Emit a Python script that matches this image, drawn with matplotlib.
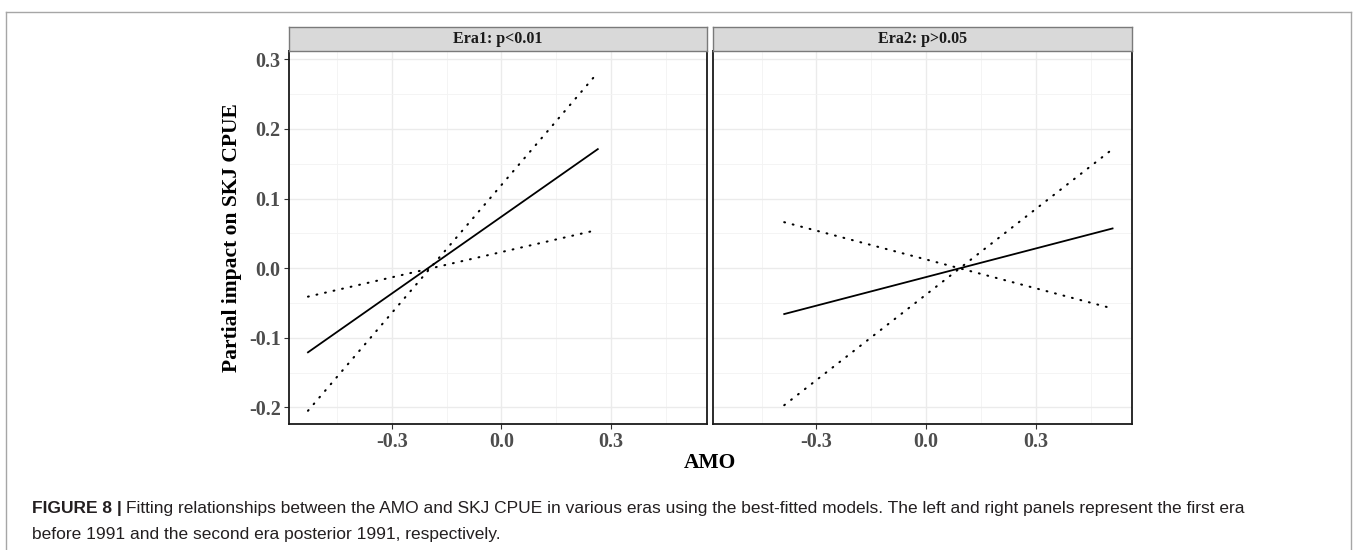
import numpy as np
import matplotlib
matplotlib.use("Agg")
import matplotlib.pyplot as plt
from matplotlib.lines import Line2D

# datos (extremos de las rectas ajustadas)
era1_x = [-0.530, 0.264]
era1_fit = [-0.121, 0.171]
era1_upper = [-0.205, 0.281]
era1_lower = [-0.041, 0.055]

era2_x = [-0.388, 0.510]
era2_fit = [-0.066, 0.057]
era2_upper = [-0.197, 0.171]
era2_lower = [0.066, -0.058]

strip_titles = ["Era1: p<0.01", "Era2: p>0.05"]
xticks = [-0.3, 0.0, 0.3]
xtick_labels = ["-0.3", "0.0", "0.3"]
yticks = [-0.2, -0.1, 0.0, 0.1, 0.2, 0.3]
ytick_labels = ["-0.2", "-0.1", "0.0", "0.1", "0.2", "0.3"]

caption_bold = "FIGURE 8 |"
caption_line1 = ("Fitting relationships between the AMO and SKJ CPUE in various eras using the "
                 "best-fitted models. The left and right panels represent the first era")
caption_line2 = "before 1991 and the second era posterior 1991, respectively."

W, H = 1353, 550
fig = plt.figure(figsize=(W / 100, H / 100), dpi=100)
fig.patch.set_facecolor("white")

serif = "Liberation Serif"


def px_axes(left, top, right, bottom):
    return fig.add_axes([left / W, 1 - bottom / H, (right - left) / W, (bottom - top) / H])


panels = [
    (289, 707.3, era1_x, era1_fit, era1_upper, era1_lower),
    (713.3, 1132.3, era2_x, era2_fit, era2_upper, era2_lower),
]
top, bottom = 51, 424
strip_top = 27.3

for i, (left, right, x, fit, up, lo) in enumerate(panels):
    ax = px_axes(left, top, right, bottom)
    ax.set_xlim(-0.582, 0.564)
    ax.set_ylim(-0.224, 0.312)
    ax.set_xticks(xticks)
    ax.set_xticklabels(xtick_labels)
    ax.set_xticks([-0.45, -0.15, 0.15, 0.45], minor=True)
    ax.set_yticks(yticks)
    ax.set_yticks([-0.15, -0.05, 0.05, 0.15, 0.25], minor=True)
    if i == 0:
        ax.set_yticklabels(ytick_labels)
    else:
        ax.tick_params(axis="y", which="both", left=False, labelleft=False)
    ax.grid(True, which="major", color="#EBEBEB", lw=1.0)
    ax.grid(True, which="minor", color="#F3F3F3", lw=0.6)
    ax.set_axisbelow(True)
    ax.tick_params(axis="both", which="major", length=3.5, width=0.8, color="#333333",
                   labelcolor="#4D4D4D", labelsize=14.5, pad=2.5)
    ax.tick_params(axis="both", which="minor", length=0)
    for lab in ax.get_xticklabels() + ax.get_yticklabels():
        lab.set_fontfamily(serif)
        lab.set_fontweight("bold")
    for s in ax.spines.values():
        s.set_color("#1A1A1A")
        s.set_linewidth(1.3)

    ax.plot(x, fit, color="black", lw=1.3)
    ax.plot(x, up, color="black", lw=1.5, dashes=(0.4, 3.8), dash_capstyle="round")
    ax.plot(x, lo, color="black", lw=1.5, dashes=(0.4, 3.8), dash_capstyle="round")

    sax = px_axes(left, strip_top, right, top)
    sax.set_facecolor("#D9D9D9")
    sax.set_xticks([])
    sax.set_yticks([])
    for s in sax.spines.values():
        s.set_color("#7A7A7A")
        s.set_linewidth(1.0)
    sax.text(0.5, 0.5, strip_titles[i], transform=sax.transAxes, ha="center", va="center",
             fontfamily=serif, fontweight="bold", fontsize=11.5, color="#1A1A1A")

# etiquetas de ejes
fig.text(710 / W, 1 - 463 / H, "AMO", ha="center", va="center", fontfamily=serif,
         fontweight="bold", fontsize=15.5, color="black")
fig.text(232 / W, 1 - 237.5 / H, "Partial impact on SKJ CPUE", ha="center", va="center",
         rotation=90, fontfamily=serif, fontweight="bold", fontsize=15.5, color="black")

# marco exterior
border = "#A6A6A6"
fig.add_artist(Line2D([6 / W, 6 / W], [0, 1 - 12 / H], color=border, lw=1.0, transform=fig.transFigure))
fig.add_artist(Line2D([6 / W, 1351 / W], [1 - 12 / H, 1 - 12 / H], color=border, lw=1.0, transform=fig.transFigure))
fig.add_artist(Line2D([1351 / W, 1351 / W], [0, 1 - 12 / H], color=border, lw=1.0, transform=fig.transFigure))

# pie de figura
cap_font = "Liberation Sans"
cap_size = 12.5
t = fig.text(32 / W, 1 - 508 / H, caption_bold, ha="left", va="center", fontfamily=cap_font,
             fontweight="bold", fontsize=cap_size, color="#231F20")
fig.canvas.draw()
bb = t.get_window_extent()
fig.text((bb.x1 + 4) / W, 1 - 508 / H, caption_line1, ha="left", va="center",
         fontfamily=cap_font, fontsize=cap_size, color="#231F20")
fig.text(32 / W, 1 - 534 / H, caption_line2, ha="left", va="center",
         fontfamily=cap_font, fontsize=cap_size, color="#231F20")

fig.savefig("out.png", dpi=100)
